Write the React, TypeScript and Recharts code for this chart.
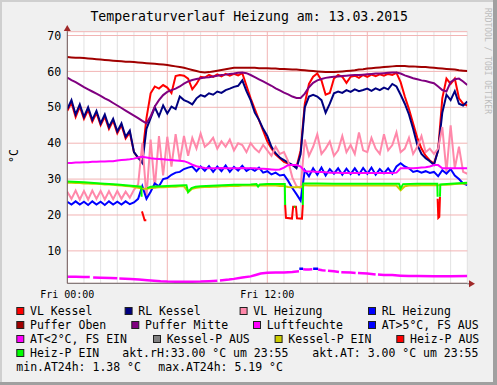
import React from 'react';
import { LineChart, Line, XAxis, YAxis, CartesianGrid } from 'recharts';

const FONT = '"DejaVu Sans Mono", monospace';

// time grid: 15 minute steps over 24 h
const hours = Array.from({ length: 97 }, (_, i) => i / 4);

const xTicks = [0, 12];
const xTickLabels = ['Fri 00:00', 'Fri 12:00'];
const yTicks = [5, 10, 15, 20, 25, 30, 35, 40, 45, 50, 55, 60, 65, 70];
const minorHours = [1, 2, 3, 4, 5, 7, 8, 9, 10, 11, 13, 14, 15, 16, 17, 19, 20, 21, 22, 23, 24];
const majorHours = [6, 12, 18];

const vlKessel = [
  49.0, 51.3, 47.3, 50.2, 46.8, 49.3, 46.0, 48.4, 45.0, 47.4, 44.0, 46.3,
  42.8, 45.0, 41.3, 43.0, 37.5, 35.8, 36.5, 47.0, 53.9, 55.8, 55.2, 56.2,
  55.5, 54.0, 58.7, 59.0, 58.8, 58.0, 55.0, 56.5, 58.5, 58.3, 59.0, 58.5,
  59.2, 58.6, 59.3, 58.8, 59.3, 58.9, 59.5, 56.0, 52.5, 49.5, 46.5, 43.5,
  40.5, 38.5, 36.8, 35.8, 34.8, 34.3, 33.9, 33.3, 38.0, 51.0, 56.5, 58.5,
  59.4, 57.5, 53.5, 54.0, 58.0, 59.0, 58.5, 56.8, 58.5, 58.8, 58.2, 59.0,
  58.5, 59.1, 58.7, 59.2, 58.8, 59.3, 59.0, 59.6, 57.0, 53.0, 49.5, 45.5,
  41.5, 38.5, 36.5, 35.2, 34.3, 38.0, 52.5, 58.0, 56.5, 58.0, 52.5, 51.0,
  50.5,
];

const rlKessel = [
  49.5, 52.0, 48.0, 50.8, 47.3, 50.0, 46.5, 49.0, 45.5, 48.0, 44.5, 46.8,
  43.3, 45.5, 41.8, 43.5, 37.5, 36.0, 34.5, 44.0, 47.0, 50.0, 47.5, 50.5,
  48.3, 50.2, 49.5, 53.0, 52.0, 51.5, 50.8, 52.5, 53.4, 53.0, 53.9, 53.5,
  54.4, 54.0, 54.8, 55.2, 55.7, 56.0, 57.5, 54.5, 52.0, 48.5, 46.5, 44.0,
  42.0, 39.0, 37.2, 36.0, 35.3, 34.6, 34.0, 33.0, 37.0, 50.0, 53.0, 53.5,
  53.0, 52.0, 48.5, 51.0, 53.9, 54.4, 54.0, 54.8, 54.3, 55.0, 54.5, 54.8,
  55.2, 54.6, 55.3, 54.8, 55.5, 55.0, 56.5, 55.8, 53.5, 51.0, 48.0, 44.0,
  39.5, 37.0, 35.8, 35.0, 34.0, 38.0, 48.5, 53.5, 52.0, 54.5, 51.0, 50.5,
  51.6,
];

const vlHeizung = [
  26.5, 24.5, 26.8, 24.3, 26.7, 24.3, 26.8, 24.5, 26.7, 24.3, 26.6, 24.4,
  26.7, 24.5, 26.5, 24.8, 27.0, 28.5, 40.0, 25.0, 41.0, 27.5, 42.0, 31.0,
  41.8, 33.5, 42.5, 35.0, 42.0, 36.5, 41.5, 38.5, 42.7, 39.0, 40.0, 41.5,
  38.5, 40.5, 39.0, 41.0, 38.0, 40.0, 39.5, 37.5, 40.0, 38.5, 37.5, 39.5,
  38.0, 36.5, 39.0, 37.0, 37.5, 35.0, 30.5, 28.0, 27.5, 41.0, 36.5, 39.0,
  42.5, 37.0, 38.5, 40.5, 36.5, 38.0, 42.0, 37.5, 39.5, 37.0, 43.0, 38.0,
  37.5, 41.5, 38.5, 37.0, 42.5, 38.0, 39.5, 43.0, 37.5, 38.5, 41.5, 37.0,
  39.0, 42.0, 37.5, 38.5, 37.0, 38.5, 44.5, 32.0, 45.0, 33.0, 39.0, 32.0,
  31.5,
];

const rlHeizung = [
  23.7, 22.9, 23.8, 22.9, 23.7, 22.8, 23.8, 22.9, 23.7, 22.8, 23.8, 22.9,
  23.7, 22.9, 23.8, 23.0, 23.5, 24.5, 28.0, 24.5, 26.5, 28.8, 28.0, 30.0,
  30.3, 31.2, 31.8, 32.0, 32.8, 33.2, 33.5, 32.2, 33.5, 32.3, 33.6, 32.0,
  33.5, 32.2, 33.8, 32.0, 33.4, 32.4, 33.7, 32.3, 33.0, 32.3, 33.2, 31.8,
  32.2, 31.3, 31.8, 31.0, 31.2, 29.5, 27.5, 25.8, 24.0, 32.5, 30.8, 33.0,
  31.2, 33.2, 31.0, 32.8, 31.5, 33.0, 31.2, 32.9, 31.4, 33.0, 31.3, 33.1,
  31.5, 33.2, 31.2, 32.8, 31.6, 33.0, 31.5, 33.5, 34.4, 33.5, 33.0, 32.0,
  32.3, 31.8, 32.2, 31.7, 32.0, 30.8, 32.5, 31.5, 32.8, 31.0, 30.0, 28.8,
  28.3,
];

const pufferOben = [
  64.0, 63.9, 63.8, 63.8, 63.7, 63.6, 63.5, 63.4, 63.3, 63.2, 63.1, 63.0,
  62.9, 62.8, 62.7, 62.7, 62.6, 62.5, 62.4, 62.3, 62.2, 62.1, 62.0, 61.9,
  61.8, 61.6, 61.4, 61.2, 61.0, 60.7, 60.4, 60.1, 59.8, 59.7, 59.8, 60.0,
  60.2, 60.4, 60.6, 60.8, 61.0, 61.0, 61.0, 61.0, 61.0, 61.0, 60.9, 60.9,
  60.9, 60.8, 60.8, 60.7, 60.7, 60.6, 60.5, 60.5, 60.4, 60.3, 60.2, 60.1,
  60.0, 59.9, 59.8, 59.8, 59.8, 59.9, 60.0, 60.1, 60.2, 60.3, 60.5, 60.6,
  60.8, 60.9, 61.0, 61.1, 61.2, 61.3, 61.4, 61.5, 61.5, 61.5, 61.4, 61.4,
  61.3, 61.2, 61.2, 61.1, 61.0, 60.9, 60.8, 60.7, 60.6, 60.5, 60.3, 60.2,
  60.1,
];

const pufferMitte = [
  58.3, 57.6, 57.0, 56.3, 55.6, 55.0, 54.4, 53.8, 53.2, 52.5, 51.9, 51.2,
  50.5, 49.8, 49.1, 48.4, 47.7, 47.0, 46.2, 45.5, 47.5, 50.2, 52.0, 53.4,
  54.3, 54.8, 55.2, 55.8, 56.6, 57.2, 57.6, 57.9, 58.1, 58.3, 58.4, 58.6,
  58.8, 59.0, 59.1, 59.3, 59.4, 59.6, 59.7, 59.5, 59.0, 58.4, 57.8, 57.2,
  56.6, 56.0, 55.3, 54.7, 54.1, 53.6, 53.0, 52.6, 52.6, 53.8, 55.6, 56.8,
  57.5, 57.9, 58.2, 58.4, 58.5, 58.6, 58.7, 58.8, 58.9, 59.0, 59.0, 59.1,
  59.2, 59.3, 59.4, 59.4, 59.5, 59.6, 59.7, 59.7, 59.4, 58.9, 58.5, 58.1,
  57.8, 57.5, 57.3, 57.0, 56.7, 55.8, 54.8, 54.4, 57.0, 57.8, 58.0, 57.2,
  56.2,
];

const luftfeuchte = [
  34.5, 34.5, 34.6, 34.6, 34.7, 34.7, 34.8, 34.8, 34.9, 34.9, 35.0, 35.0,
  35.2, 35.3, 35.4, 35.5, 35.7, 36.0, 36.2, 36.0, 35.8, 35.7, 35.6, 35.5,
  35.4, 35.3, 35.2, 35.1, 35.0, 34.6, 34.0, 33.6, 33.3, 33.1, 33.0, 33.0,
  33.0, 33.1, 33.0, 33.0, 33.0, 33.0, 33.1, 33.0, 33.0, 33.0, 32.9, 32.9,
  32.8, 32.7, 32.6, 32.7, 33.2, 33.9, 33.9, 33.9, 33.5, 32.2, 32.1, 32.1,
  32.0, 32.0, 31.9, 31.8, 31.8, 31.8, 31.7, 31.7, 31.7, 31.7, 31.7, 31.7,
  31.7, 31.7, 31.7, 31.7, 31.7, 31.7, 31.7, 31.8, 33.0, 33.0, 33.0, 33.0,
  33.1, 33.2, 33.3, 33.5, 33.9, 33.9, 33.0, 33.0, 33.0, 33.0, 33.0, 33.0,
  33.0,
];

const kesselPEin = [
  29.0, 29.0, 28.9, 28.9, 28.8, 28.8, 28.7, 28.7, 28.6, 28.5, 28.5, 28.4,
  28.3, 28.2, 28.1, 28.0, 27.8, 27.6, 27.4, 27.3, 27.5, 27.6, 27.7, 27.7,
  27.8, 27.9, 27.9, 28.0, 28.0, 26.4, 27.3, 27.6, 27.7, 27.8, 27.8, 27.9,
  27.9, 28.0, 28.0, 28.1, 28.1, 28.1, 28.2, 28.2, 28.2, 28.2, 28.2, 28.2,
  28.2, 28.2, 28.2, 28.1, 28.1, 27.8, 27.7, 27.7, 27.8, 28.3, 28.2, 28.2,
  28.2, 28.2, 28.2, 28.2, 28.2, 28.2, 28.2, 28.2, 28.2, 28.2, 28.2, 28.2,
  28.2, 28.2, 28.2, 28.2, 28.2, 28.2, 28.2, 28.2, 26.9, 28.0, 28.2, 28.2,
  28.2, 28.3, 28.3, 28.3, 28.3, 28.3, 28.4, 28.4, 28.5, 28.6, 28.7, 28.7,
  28.8,
];

// Heiz-P EIN (green), own time points, null = pump off
const heizEinTime = [
  0, 1, 2, 3, 4, 4.44, 4.46, 4.6, 4.8, 5, 6, 7, 7.15, 7.25, 7.45, 7.7, 8, 9, 10, 11,
  11.35, 11.45, 11.55, 12, 13, 13.05, 13.07, 13.3, 13.6, 13.68, 13.8, 14.13, 14.15,
  15, 16, 17, 18, 19, 19.9, 20.0, 20.15, 21, 22, 22.2, 22.22, 22.3, 22.36, 22.38, 23, 24,
];
const heizEinVal = [
  29.3, 29.1, 28.8, 28.5, 28.1, 27.9, 25.1, null, 27.5, 27.9, 28.1, 28.3, 28.3, 26.4,
  27.5, 27.9, 28.0, 28.2, 28.4, 28.5, 28.6, 27.9, 28.5, 28.6, 28.6, 28.6, 22.8, null,
  22.3, 22.3, null, 22.8, 28.8, 28.8, 28.7, 28.7, 28.7, 28.7, 28.7, 27.4, 28.6, 28.7,
  28.7, 28.7, 25.1, null, 25.1, 28.5, 28.7, 29.0,
];

// Heiz-P AUS (red), own time points
const heizAusTime = [4.48, 4.56, 4.64, 4.74, 4.8, 13.07, 13.12, 13.48, 13.55, 13.72, 13.78, 14.08, 14.13, 14.2, 22.22, 22.26, 22.32, 22.36];
const heizAusVal = [21.0, 19.8, 18.5, 18.5, null, 22.8, 19.2, 19.0, 22.3, 22.3, 19.1, 19.0, 22.8, null, 24.5, 19.2, 19.5, 25.0];

// outside temperature (AT < 2°C / FS EIN colour), own time points
const atTime = [
  0, 0.5, 1.0, 1.35, 1.45, 1.55, 2.0, 2.6, 3.0, 3.06, 3.12, 3.8, 4.3, 4.8, 5.2, 5.6, 6.0,
  6.5, 7.0, 7.5, 8.0, 8.5, 9.0, 9.08, 9.16, 9.7, 10.0, 10.5, 11.0, 11.3, 11.6, 12.0,
  12.5, 13.0, 13.5, 13.9, 13.95, 14.15, 14.3, 14.5, 14.7, 14.75, 15.05, 15.3, 15.5,
  15.57, 15.64, 16.0, 16.3, 16.37, 16.44, 17.0, 17.3, 17.37, 17.44, 18.0, 18.5, 18.57,
  18.64, 19.0, 19.5, 20.0, 20.5, 21.0, 22.0, 23.0, 24.0,
];
const atVal = [
  2.8, 2.8, 2.75, 2.7, null, 2.6, 2.55, 2.45, 2.35, null, 2.3, 2.2, 2.05, 1.85, 1.7,
  1.55, 1.45, 1.42, 1.4, 1.42, 1.45, 1.55, 1.7, null, 1.75, 2.0, 2.2, 2.6, 2.9, 3.3,
  3.7, 3.9, 4.0, 4.0, 4.1, 4.3, null, 4.9, 4.8, 4.8, 4.85, null, 4.8, 4.6, 4.5, null,
  4.45, 4.3, 4.1, null, 4.05, 3.95, 3.85, null, 3.82, 3.7, 3.45, null, 3.4, 3.3, 3.25,
  3.1, 3.0, 3.0, 2.95, 2.95, 3.0,
];

// AT > 5°C / FS AUS segments (blue)
const atHighTime = [13.92, 14.15, 14.2, 14.75, 15.05];
const atHighVal = [5.0, 5.0, null, 5.0, 5.0];

const legendLabels = [
  'VL Kessel', 'RL Kessel', 'VL Heizung', 'RL Heizung',
  'Puffer Oben', 'Puffer Mitte', 'Luftfeuchte', 'AT>5°C, FS AUS',
  'AT<2°C, FS EIN', 'Kessel-P AUS', 'Kessel-P EIN', 'Heiz-P AUS',
  'Heiz-P EIN',
];
const legendColors = [
  '#FF0000', '#000080', '#FF88AA', '#0000FF',
  '#A00000', '#800080', '#FF00FF', '#0000FF',
  '#FF00FF', '#808080', '#CCCC00', '#FF0000',
  '#00FF00',
];
const legendTextX = [30, 138.3, 253.3, 381.7, 30, 145, 266.7, 381.7, 30, 166.7, 288.3, 410, 30];
const legendRow = [0, 0, 0, 0, 1, 1, 1, 1, 2, 2, 2, 2, 3];
const rowBaseline = [315, 329, 343, 357, 371];
const extraTexts = [
  { text: 'akt.rH:33.00 °C um 23:55', x: 122.3, row: 3 },
  { text: 'akt.AT: 3.00 °C um 23:55', x: 312.3, row: 3 },
  { text: 'min.AT24h: 1.38 °C', x: 16.3, row: 4 },
  { text: 'max.AT24h: 5.19 °C', x: 158.3, row: 4 },
];

const mainData = hours.map((t, i) => ({
  t,
  vlKessel: vlKessel[i],
  rlKessel: rlKessel[i],
  vlHeizung: vlHeizung[i],
  rlHeizung: rlHeizung[i],
  pufferOben: pufferOben[i],
  pufferMitte: pufferMitte[i],
  luftfeuchte: luftfeuchte[i],
  kesselPEin: kesselPEin[i],
}));
const pairs = (ts: number[], vs: (number | null)[]) => ts.map((t, i) => ({ t, v: vs[i] }));
const heizEinData = pairs(heizEinTime, heizEinVal);
const heizAusData = pairs(heizAusTime, heizAusVal);
const atData = pairs(atTime, atVal);
const atHighData = pairs(atHighTime, atHighVal);

const PLOT_L = 67.3;
const PLOT_T = 31.7;
const PLOT_R = 467.3;
const PLOT_B = 283.3;
const Y_AXIS_W = 60;
const X_AXIS_H = 30;

const lineCommon = {
  type: 'linear' as const,
  dot: false,
  activeDot: false,
  isAnimationActive: false,
  strokeWidth: 2,
};

export default function App() {
  return (
    <div style={{ position: 'fixed', left: 0, top: 0, width: 497, height: 385, background: '#F0F0F0', overflow: 'hidden' }}>
      <LineChart
        width={497}
        height={385}
        data={mainData}
        margin={{ top: PLOT_T, right: 497 - PLOT_R, bottom: 385 - PLOT_B - X_AXIS_H, left: PLOT_L - Y_AXIS_W }}
      >
        <CartesianGrid
          fill="#FFFFFF"
          horizontal={false}
          stroke="#E2E2E2"
          strokeWidth={1}
          verticalCoordinatesGenerator={({ offset }: any) =>
            minorHours.map((h) => offset.left + (h / 24) * offset.width)
          }
        />
        <CartesianGrid
          stroke="#F2B4B4"
          strokeWidth={1}
          verticalCoordinatesGenerator={({ offset }: any) =>
            majorHours.map((h) => offset.left + (h / 24) * offset.width)
          }
        />
        <XAxis
          dataKey="t"
          type="number"
          domain={[0, 24]}
          ticks={xTicks}
          allowDataOverflow
          height={X_AXIS_H}
          tickLine={false}
          tickSize={0}
          tickMargin={8}
          axisLine={{ stroke: '#6A6A6A' }}
          tickFormatter={(v: number) => xTickLabels[xTicks.indexOf(v)]}
          tick={{ fontFamily: FONT, fontSize: 10, fill: '#000' }}
        />
        <YAxis
          type="number"
          domain={[0.97, 71.06]}
          ticks={yTicks}
          allowDataOverflow
          width={Y_AXIS_W}
          tickLine={false}
          tickSize={0}
          tickMargin={6}
          axisLine={{ stroke: '#6A5050' }}
          tick={{ fontFamily: FONT, fontSize: 11.6, fill: '#000' }}
        />
        <Line {...lineCommon} dataKey="vlKessel" stroke="#FF0000" />
        <Line {...lineCommon} dataKey="rlKessel" stroke="#000080" />
        <Line {...lineCommon} dataKey="vlHeizung" stroke="#FF88AA" />
        <Line {...lineCommon} dataKey="rlHeizung" stroke="#0000FF" />
        <Line {...lineCommon} dataKey="pufferOben" stroke="#A00000" />
        <Line {...lineCommon} dataKey="pufferMitte" stroke="#800080" />
        <Line {...lineCommon} dataKey="luftfeuchte" stroke="#FF00FF" />
        <Line {...lineCommon} data={atHighData} dataKey="v" stroke="#0000FF" strokeWidth={2.5} />
        <Line {...lineCommon} data={atData} dataKey="v" stroke="#FF00FF" strokeWidth={2.5} />
        <Line {...lineCommon} dataKey="kesselPEin" stroke="#CCCC00" />
        <Line {...lineCommon} data={heizAusData} dataKey="v" stroke="#FF0000" />
        <Line {...lineCommon} data={heizEinData} dataKey="v" stroke="#00FF00" />
      </LineChart>
      <svg width={497} height={385} style={{ position: 'absolute', left: 0, top: 0, pointerEvents: 'none' }}>
        {/* frame */}
        <rect x={0} y={0} width={497} height={2} fill="#CFCFCF" />
        <rect x={0} y={0} width={2} height={385} fill="#CFCFCF" />
        <rect x={493} y={0} width={4} height={385} fill="#A0A0A0" />
        <rect x={0} y={382} width={497} height={3} fill="#A0A0A0" />
        {/* axis extensions and arrows */}
        <line x1={PLOT_R} y1={PLOT_B + 0.5} x2={470} y2={PLOT_B + 0.5} stroke="#6A6A6A" strokeWidth={1} />
        <polygon points={`469,${PLOT_B - 3} 475,${PLOT_B + 0.5} 469,${PLOT_B + 4}`} fill="#A02828" />
        <line x1={PLOT_L} y1={PLOT_T} x2={PLOT_L} y2={29} stroke="#6A5050" strokeWidth={1} />
        <polygon points={`${PLOT_L - 3.5},31 ${PLOT_L},25 ${PLOT_L + 3.5},31`} fill="#A02828" />
        {/* title */}
        <text x={249.2} y={21} textAnchor="middle" fontFamily={FONT} fontSize={13.2} fill="#000">
          Temperaturverlauf Heizung am: 13.03.2015
        </text>
        {/* vertical unit label */}
        <text transform="translate(18.3,156) rotate(-90)" textAnchor="middle" fontFamily={FONT} fontSize={11.5} fill="#000">
          °C
        </text>
        {/* watermark */}
        <text transform="translate(484.5,61) rotate(90)" textAnchor="middle" fontFamily={FONT} fontSize={8} fill="#BDBDBD">
          RRDTOOL / TOBI OETIKER
        </text>
        {/* legend */}
        {legendLabels.map((lab, i) => {
          const base = rowBaseline[legendRow[i]];
          const tx = legendTextX[i];
          return (
            <g key={lab}>
              <rect x={tx - 13.2} y={base - 7.5} width={7} height={7} fill={legendColors[i]} stroke="#202020" strokeWidth={1} />
              <text x={tx} y={base} fontFamily={FONT} fontSize={11.5} fill="#000">
                {lab}
              </text>
            </g>
          );
        })}
        {extraTexts.map((e) => (
          <text key={e.text} x={e.x} y={rowBaseline[e.row]} fontFamily={FONT} fontSize={11.5} fill="#000">
            {e.text}
          </text>
        ))}
      </svg>
    </div>
  );
}
